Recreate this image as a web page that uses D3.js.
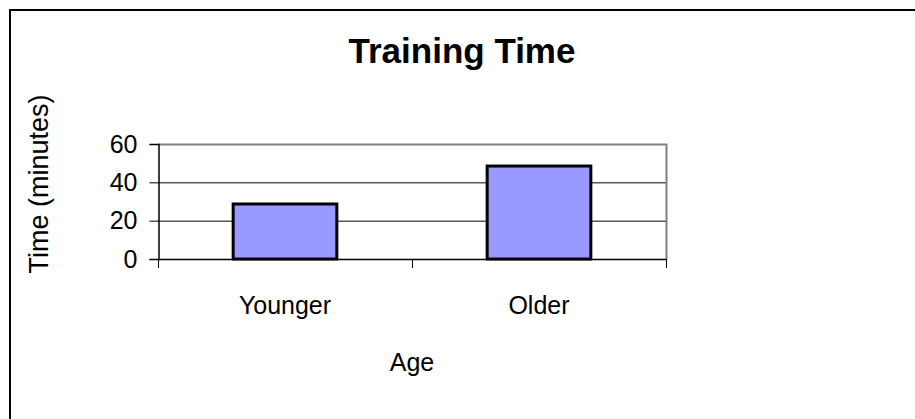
<!DOCTYPE html>
<html>
<head>
<meta charset="utf-8">
<script src="https://cdn.jsdelivr.net/npm/d3@7"></script>
<style>
  body { margin: 0; background: #fff; }
  svg { display: block; font-family: Arial, "Liberation Sans", sans-serif; }
</style>
</head>
<body>
<div id="chart"></div>
<script>
var categories = ["Younger", "Older"];
var minutes = [28.7, 48.5];
var yTicks = [0, 20, 40, 60];

var width = 915, height = 419;
var plot = {left: 158, right: 666, top: 144, bottom: 259};

var svg = d3.select("#chart").append("svg")
  .attr("width", width)
  .attr("height", height);

// outer chart frame (right/bottom edges fall outside the picture)
svg.append("rect")
  .attr("x", 10).attr("y", 10)
  .attr("width", width + 20).attr("height", height + 20)
  .attr("fill", "#fff")
  .attr("stroke", "#000")
  .attr("stroke-width", 2);

var x = d3.scaleBand().domain(categories).range([plot.left, plot.right]).paddingInner(0).paddingOuter(0);
var y = d3.scaleLinear().domain([0, 60]).range([plot.bottom, plot.top]);

// gridlines
svg.append("g").selectAll("line")
  .data(yTicks.filter(function(d){ return d > 0 && d < 60; }))
  .enter().append("line")
  .attr("x1", plot.left).attr("x2", plot.right)
  .attr("y1", function(d){ return y(d) + 0.5; })
  .attr("y2", function(d){ return y(d) + 0.5; })
  .attr("stroke", "#000").attr("stroke-width", 1);

// plot area border (top, right) in gray
svg.append("path")
  .attr("d", "M" + plot.left + "," + (plot.top + 0.5) + "H" + (plot.right + 0.5) + "V" + plot.bottom)
  .attr("fill", "none")
  .attr("stroke", "#808080")
  .attr("stroke-width", 2);

// bars
var barW = x.bandwidth() / 2.45;
svg.append("g").selectAll("rect")
  .data(categories)
  .enter().append("rect")
  .attr("x", function(d){ return x(d) + (x.bandwidth() - barW) / 2; })
  .attr("y", function(d, i){ return y(minutes[i]); })
  .attr("width", barW)
  .attr("height", function(d, i){ return y(0) - y(minutes[i]); })
  .attr("fill", "#9999ff")
  .attr("stroke", "#000")
  .attr("stroke-width", 3);

// y axis
var yAxis = svg.append("g")
  .attr("transform", "translate(" + (plot.left + 0.5) + ",0)")
  .call(d3.axisLeft(y).tickValues(yTicks).tickSize(9).tickPadding(12));
yAxis.select(".domain").attr("stroke", "#000").attr("stroke-width", 1.5);
yAxis.selectAll(".tick line").attr("stroke", "#000");
yAxis.selectAll("text").attr("font-size", 25).attr("fill", "#000").attr("font-family", "Arial, 'Liberation Sans', sans-serif");

// x axis
var xTickPos = [plot.left, plot.left + x.bandwidth(), plot.right];
var xAxis = svg.append("g");
xAxis.append("line")
  .attr("x1", plot.left).attr("x2", plot.right + 1)
  .attr("y1", plot.bottom + 0.5).attr("y2", plot.bottom + 0.5)
  .attr("stroke", "#000").attr("stroke-width", 1.5);
xAxis.selectAll(".tk").data(xTickPos).enter().append("line")
  .attr("x1", function(d){ return d + 0.5; }).attr("x2", function(d){ return d + 0.5; })
  .attr("y1", plot.bottom).attr("y2", plot.bottom + 9)
  .attr("stroke", "#000");
xAxis.selectAll("text").data(categories).enter().append("text")
  .attr("x", function(d){ return x(d) + x.bandwidth() / 2; })
  .attr("y", 314)
  .attr("text-anchor", "middle")
  .attr("font-size", 25)
  .text(function(d){ return d; });

// titles
svg.append("text")
  .attr("x", 462)
  .attr("y", 63)
  .attr("text-anchor", "middle")
  .attr("font-size", 35)
  .attr("font-weight", "bold")
  .text("Training Time");

svg.append("text")
  .attr("x", (plot.left + plot.right) / 2)
  .attr("y", 371)
  .attr("text-anchor", "middle")
  .attr("font-size", 25)
  .text("Age");

svg.append("text")
  .attr("transform", "translate(48,184) rotate(-90)")
  .attr("text-anchor", "middle")
  .attr("font-size", 27)
  .text("Time (minutes)");
</script>
</body>
</html>
